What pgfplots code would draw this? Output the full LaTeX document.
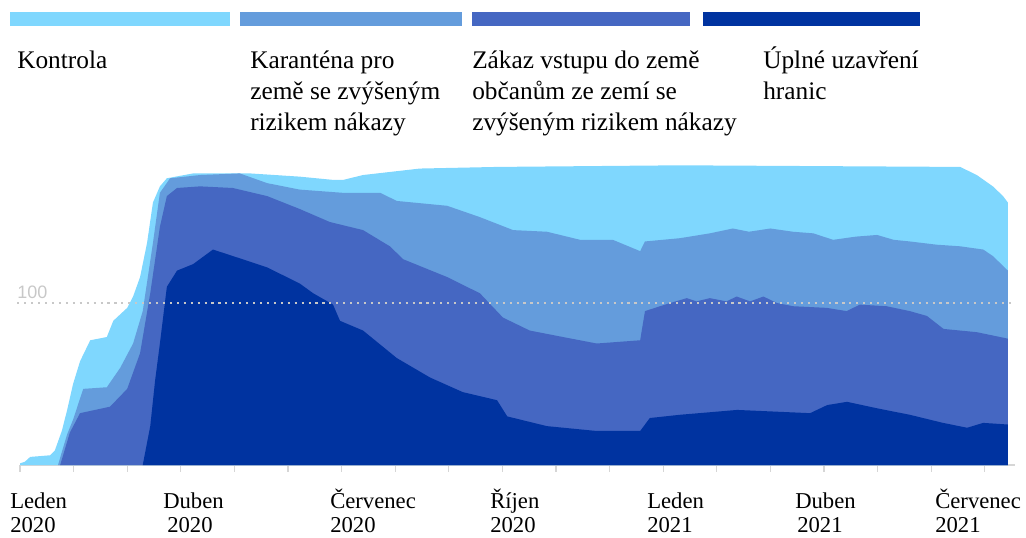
\documentclass[border=0pt]{standalone}
\usepackage{pgfplots}
\pgfplotsset{compat=1.18}
\usepackage{fontspec}
\setmainfont{Liberation Serif}
\newfontfamily\sansf{Liberation Sans}
\definecolor{cA}{HTML}{7FD7FE}
\definecolor{cB}{HTML}{649CDC}
\definecolor{cC}{HTML}{4567C2}
\definecolor{cD}{HTML}{0033A0}
\definecolor{lgray}{HTML}{C8C8C8}
\definecolor{axgray}{HTML}{D6D6D6}

% x = months since 1 Jan 2020, y = number of countries (cumulative tops)
\pgfplotstableread{
x y
0.00 1
0.09 2
0.19 5
0.56 6
0.65 9
0.78 21
0.88 34
0.99 50
1.12 64
1.31 77
1.62 79
1.74 89
2.00 97
2.11 104
2.24 116
2.37 137
2.48 162
2.61 172
2.74 177
3.23 180
4.29 180
5.22 178
5.84 176
6.03 176
6.40 179
7.46 183
8.90 184
12.31 185
17.54 184
17.85 179
18.15 172
18.34 166
18.43 162
}\total
\pgfplotstableread{
x y
0.71 0
0.78 8
0.88 19
0.99 28
1.18 47
1.62 48
1.87 60
2.11 75
2.29 95
2.48 137
2.61 168
2.80 177
3.36 179
4.10 180
4.61 174
5.22 170
6.03 168
6.72 168
7.03 163
7.97 160
8.58 153
9.20 145
9.83 144
10.45 139
11.06 139
11.57 132
11.66 138
12.31 140
12.87 143
13.30 146
13.60 144
14.00 146
14.42 144
14.80 143
15.17 139
15.60 141
15.99 142
16.30 139
16.60 138
17.10 136
17.54 135
17.97 133
18.15 129
18.43 120
}\karantena
\pgfplotstableread{
x y
0.75 0
0.84 10
0.93 20
1.12 32
1.68 36
2.00 47
2.24 69
2.43 106
2.61 147
2.74 166
2.93 171
3.36 172
3.97 171
4.61 166
5.22 158
5.78 150
6.40 145
6.90 135
7.15 127
7.97 116
8.58 106
9.01 91
9.51 83
10.13 79
10.76 75
11.57 77
11.66 95
11.94 98
12.13 100
12.44 103
12.62 101
12.87 103
13.18 101
13.37 104
13.62 101
13.87 104
14.12 100
14.43 98
15.05 97
15.42 95
15.67 99
16.17 98
16.60 95
16.92 92
17.23 84
17.85 82
18.43 78
}\zakaz
\pgfplotstableread{
x y
2.29 0
2.43 24
2.52 52
2.61 75
2.74 110
2.93 120
3.23 124
3.60 133
3.97 129
4.61 122
5.22 112
5.47 106
5.84 99
5.97 89
6.40 83
7.03 66
7.65 54
8.26 45
8.90 40
9.09 30
9.83 24
10.76 21
11.57 21
11.75 29
12.31 31
13.38 34
14.74 32
15.06 37
15.43 39
15.99 35
16.60 31
17.22 26
17.67 23
17.97 26
18.43 25
}\uzavreni

\begin{document}
\begin{tikzpicture}
\begin{axis}[
  at={(15pt,-348.75pt)}, anchor=south west,
  scale only axis, width=746.25pt, height=230.85pt,
  xmin=0, xmax=18.563, ymin=0, ymax=190,
  axis x line*=bottom, axis y line=none,
  axis line style={axgray, line width=1.1pt, -},
  xtick={0,...,18}, xticklabels={},
  ytick=\empty,
  tick style={axgray, line width=1pt},
  major tick length=5pt, tick align=outside,
  clip=false,
]
\addplot[fill=cA, draw=none] table {\total} \closedcycle;
\addplot[fill=cB, draw=none] table {\karantena} \closedcycle;
\addplot[fill=cC, draw=none] table {\zakaz} \closedcycle;
\addplot[fill=cD, draw=none] table {\uzavreni} \closedcycle;
\addplot[lgray, line width=1.6pt, dash pattern=on 1.6pt off 3.6pt] coordinates {(-0.05,100) (18.56,100)};
\end{axis}
\begin{scope}[x=0.75pt, y=-0.75pt]
  % legend bars
  \fill[cA] (10,12) rectangle (230,26);
  \fill[cB] (240,12) rectangle (462,26);
  \fill[cC] (472,12) rectangle (690,26);
  \fill[cD] (703,12) rectangle (920,26);
  \begin{scope}[every node/.style={inner sep=0pt, anchor=base west, font=\fontsize{19}{23}\selectfont}]
    \node at (17,68) {Kontrola};
    \node at (250,68) {Karanténa pro};
    \node at (250,99) {země se zvýšeným};
    \node at (250,130) {rizikem nákazy};
    \node at (472,68) {Zákaz vstupu do země};
    \node at (472,99) {občanům ze zemí se};
    \node at (472,130) {zvýšeným rizikem nákazy};
    \node at (763,68) {Úplné uzavření};
    \node at (763,99) {hranic};
  \end{scope}
  \node[inner sep=0pt, anchor=base west, text=lgray, font=\sansf\fontsize{13.5}{15}\selectfont] at (17,298) {100};
  \begin{scope}[every node/.style={inner sep=0pt, anchor=base west, font=\fontsize{17}{20}\selectfont}]
    \node at (10,508) {Leden};     \node at (10,532) {2020};
    \node at (163,508) {Duben};    \node at (167,532) {2020};
    \node at (330,508) {Červenec}; \node at (330,532) {2020};
    \node at (490,508) {Říjen};    \node at (490,532) {2020};
    \node at (647,508) {Leden};    \node at (647,532) {2021};
    \node at (795,508) {Duben};    \node at (797,532) {2021};
    \node at (935,508) {Červenec}; \node at (935,532) {2021};
  \end{scope}
  \pgfresetboundingbox
  \useasboundingbox (0,0) rectangle (1026,537);
\end{scope}
\end{tikzpicture}
\end{document}
